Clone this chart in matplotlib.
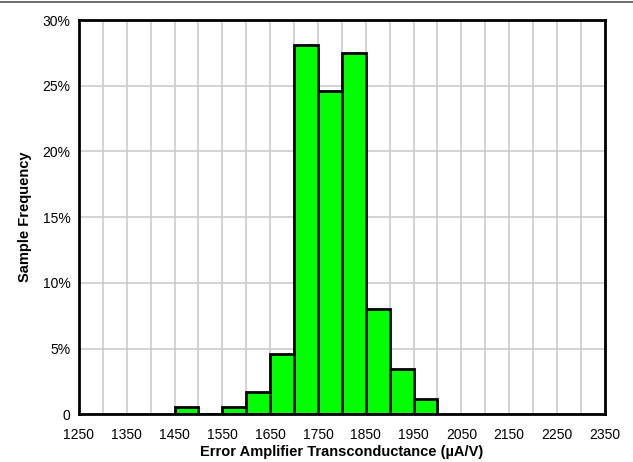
import matplotlib
matplotlib.use("Agg")
import matplotlib.pyplot as plt
from matplotlib.lines import Line2D
import numpy as np

# Histogram of error amplifier transconductance, 50 uA/V bins
bin_edges = np.arange(1250, 2351, 50)
bin_left = [1450, 1500, 1550, 1600, 1650, 1700, 1750, 1800, 1850, 1900, 1950]
frequency_pct = [0.58, 0.0, 0.58, 1.72, 4.6, 28.1, 24.6, 27.5, 8.0, 3.43, 1.14]

x_ticks = list(range(1250, 2351, 100))
y_ticks = [0, 5, 10, 15, 20, 25, 30]
y_tick_labels = ["0", "5%", "10%", "15%", "20%", "25%", "30%"]

plt.rcParams["font.family"] = ["Liberation Sans", "DejaVu Sans"]

fig = plt.figure(figsize=(6.33, 4.62), dpi=100)
ax = fig.add_axes([0.1248, 0.1032, 0.8305, 0.8535])

ax.bar(bin_left, frequency_pct, width=50, align="edge",
       color="#00ff00", edgecolor="black", linewidth=2.0, zorder=3)

ax.set_xlim(1250, 2350)
ax.set_ylim(0, 30)
ax.set_xticks(x_ticks)
ax.set_xticks(bin_edges, minor=True)
ax.set_yticks(y_ticks)
ax.set_yticklabels(y_tick_labels)
ax.tick_params(which="both", length=0, labelsize=10)
ax.tick_params(axis="x", pad=10)
ax.tick_params(axis="y", pad=6)
ax.grid(True, which="both", axis="x", color="#cccccc", linewidth=1.2, zorder=0)
ax.grid(True, which="major", axis="y", color="#cccccc", linewidth=1.2, zorder=0)

for spine in ax.spines.values():
    spine.set_linewidth(2.0)
    spine.set_zorder(4)

ax.set_xlabel("Error Amplifier Transconductance (\u00b5A/V)", fontsize=10.5,
              fontweight="bold", labelpad=2)
ax.set_ylabel("Sample Frequency", fontsize=10.5, fontweight="bold", labelpad=8)

# thin rule across the top of the figure
fig.add_artist(Line2D([0, 1], [0.995, 0.995], transform=fig.transFigure,
                      color="#555555", linewidth=1.2))

fig.savefig("out.png", dpi=100)
